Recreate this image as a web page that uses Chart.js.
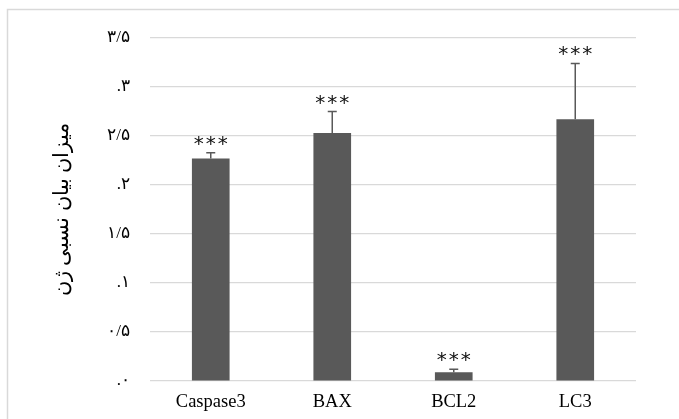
<!DOCTYPE html>
<html>
<head>
<meta charset="utf-8">
<script src="https://cdn.jsdelivr.net/npm/chart.js@4/dist/chart.umd.min.js"></script>
<style>
  html, body { margin: 0; padding: 0; background: #ffffff; }
  #wrap { width: 679px; height: 419px; position: relative; }
</style>
</head>
<body>
<div id="wrap"><canvas id="c" width="679" height="419"></canvas></div>
<script>
const categories = ['Caspase3', 'BAX', 'BCL2', 'LC3'];
const values = [2.27, 2.53, 0.09, 2.67];
const errors = [0.06, 0.22, 0.03, 0.57];
const significance = ['***', '***', '***', '***'];
const yTickLabels = ['.۰', '۰/۵', '.۱', '۱/۵', '.۲', '۲/۵', '.۳', '۳/۵'];
const yTitle = 'میزان بیان نسبی ژن';

const barColor = '#595959';
const serif = "'Liberation Serif', 'Times New Roman', 'DejaVu Serif', serif";

const borderPlugin = {
  id: 'outerBorder',
  beforeDraw(chart) {
    const ctx = chart.ctx;
    ctx.save();
    ctx.fillStyle = '#ffffff';
    ctx.fillRect(0, 0, chart.width, chart.height);
    ctx.strokeStyle = '#d9d9d9';
    ctx.lineWidth = 1.5;
    ctx.strokeRect(7.5, 9.5, 800, 600);
    ctx.restore();
  }
};

const errorPlugin = {
  id: 'errorBars',
  afterDatasetsDraw(chart) {
    const ctx = chart.ctx;
    const meta = chart.getDatasetMeta(0);
    const yScale = chart.scales.y;
    ctx.save();
    meta.data.forEach((bar, i) => {
      const x = bar.x;
      const yTop = yScale.getPixelForValue(values[i]);
      const yErr = yScale.getPixelForValue(values[i] + errors[i]);
      ctx.strokeStyle = barColor;
      ctx.lineWidth = 1.5;
      ctx.beginPath();
      ctx.moveTo(x, yTop);
      ctx.lineTo(x, yErr);
      ctx.moveTo(x - 4.5, yErr);
      ctx.lineTo(x + 4.5, yErr);
      ctx.stroke();
      ctx.fillStyle = '#111111';
      ctx.font = "20px 'DejaVu Sans', sans-serif";
      ctx.textAlign = 'center';
      ctx.textBaseline = 'alphabetic';
      const chars = significance[i].split('');
      const gap = 12;
      const start = x - gap * (chars.length - 1) / 2;
      chars.forEach((ch, k) => ctx.fillText(ch, start + k * gap, yErr - 3));
    });
    ctx.restore();
  }
};

new Chart(document.getElementById('c'), {
  type: 'bar',
  data: {
    labels: categories,
    datasets: [{
      data: values,
      backgroundColor: barColor,
      borderWidth: 0,
      barPercentage: 0.31,
      categoryPercentage: 1.0
    }]
  },
  options: {
    responsive: false,
    animation: false,
    devicePixelRatio: 1,
    layout: { padding: { left: 0, right: 43, top: 38, bottom: 0 } },
    plugins: {
      legend: { display: false },
      tooltip: { enabled: false }
    },
    scales: {
      x: {
        grid: { display: false, drawTicks: false },
        border: { display: false },
        ticks: {
          color: '#000000',
          font: { family: serif, size: 18.5 },
          padding: 10
        },
        afterFit(scale) { scale.height = 38; }
      },
      y: {
        min: 0,
        max: 3.5,
        grid: { color: '#d9d9d9', lineWidth: 1.2, drawTicks: false },
        border: { display: false },
        ticks: {
          stepSize: 0.5,
          color: '#000000',
          font: { family: serif, size: 17 },
          padding: 20,
          callback: (v) => yTickLabels[Math.round(v / 0.5)]
        },
        title: {
          display: true,
          text: yTitle,
          color: '#000000',
          font: { family: serif, size: 21 },
          padding: { top: 50, bottom: 0 }
        },
        afterFit(scale) { scale.width = 150; }
      }
    }
  },
  plugins: [borderPlugin, errorPlugin]
});
</script>
</body>
</html>
